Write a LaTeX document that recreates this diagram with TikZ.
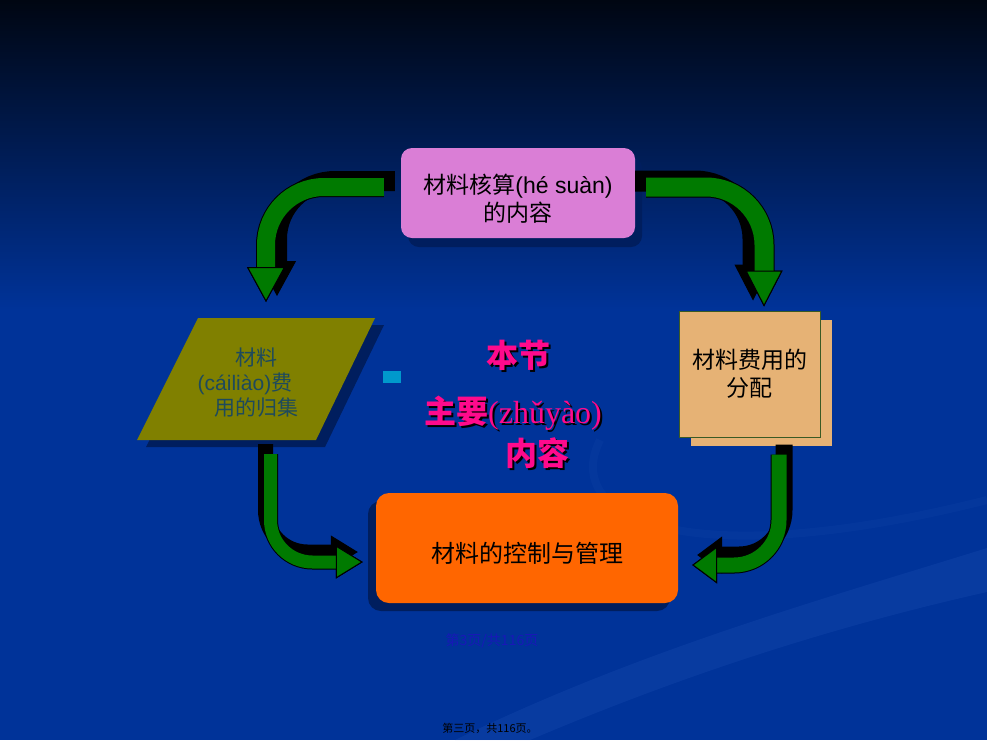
\documentclass[tikz,border=0pt]{standalone}
\usepackage{fontspec}
\setmainfont{Liberation Sans}
\newfontfamily\cjk{Noto Sans CJK SC}
\newfontfamily\serifpy{Liberation Serif}
\usetikzlibrary{shadows,arrows.meta}

\definecolor{bgblue}{HTML}{003399}
\definecolor{bgtop}{HTML}{000612}
\definecolor{swooshblue}{HTML}{2A5CC0}
\definecolor{boxpink}{HTML}{DA7ED6}
\definecolor{boxolive}{HTML}{808000}
\definecolor{oliveink}{HTML}{1E4A5C}
\definecolor{boxtan}{HTML}{E6B275}
\definecolor{tanedge}{HTML}{3A5A24}
\definecolor{boxorange}{HTML}{FF6600}
\definecolor{arrowgreen}{HTML}{007A00}
\definecolor{shadowblue}{HTML}{001E5E}
\definecolor{titlepink}{HTML}{FF0A8C}
\definecolor{bulletcyan}{HTML}{0099CC}
\definecolor{pageblue}{HTML}{1818B8}

\begin{document}
\begin{tikzpicture}[x=1pt, y=-1pt,
    slidebox/.style={inner sep=0pt, align=center, font=\cjk\fontsize{23}{28}\selectfont},
    hesuanbox/.style={slidebox, rounded corners=11pt, fill=boxpink, minimum width=234pt, minimum height=90pt,
      general shadow={fill=shadowblue, shadow xshift=7pt, shadow yshift=-9pt}},
    fenpeibox/.style={slidebox, draw=tanedge, line width=1pt, fill=boxtan, minimum width=141pt, minimum height=126pt,
      general shadow={fill=boxtan, shadow xshift=12pt, shadow yshift=-9pt}},
    kongzhibox/.style={slidebox, rounded corners=13pt, fill=boxorange, minimum width=302pt, minimum height=110pt,
      general shadow={fill=shadowblue, shadow xshift=-8pt, shadow yshift=-8pt}},
    headline/.style={inner sep=0pt, text=titlepink, font=\cjk\bfseries\fontsize{32}{36}\selectfont},
    headshadow/.style={headline, text=black},
    greenhead/.style 2 args={-{Triangle[length=#1 0 0, width=#2 0 0, line width=1pt, color=black, fill=arrowgreen]}},
    blackhead/.style 2 args={-{Triangle[length=#1 0 0, width=#2 0 0, line width=1pt, color=black]}},
  ]
  \useasboundingbox (0,0) rectangle (987,740);
  \fill[bgblue] (0,0) rectangle (987,740);
  \shade[top color=bgtop, bottom color=bgblue] (0,0) rectangle (987,310);
  \fill[swooshblue, opacity=0.2] (987,548) .. controls (820,600) and (640,650) .. (455,740)
    -- (530,740) .. controls (690,672) and (840,625) .. (987,592) -- cycle;
  \draw[swooshblue, opacity=0.1, line width=8pt] (600,440) .. controls (560,520) and (690,575) .. (987,500);

  \node[hesuanbox] (hesuan) at (518,193) {};
  \node[slidebox] (hesuantext) at (518,199) {材料核算{\rmfamily(hé suàn)}\\的内容};

  \coordinate (guijinw) at (198,318);
  \coordinate (guijine) at (375,318);
  \coordinate (guijise) at (316,440);
  \coordinate (guijisw) at (137,440);
  \fill[shadowblue, transform canvas={shift={(9,7)}}] (guijisw) -- (guijinw) -- (guijine) -- (guijise) -- cycle;
  \fill[boxolive] (guijisw) -- (guijinw) -- (guijine) -- (guijise) -- cycle;
  \node[slidebox, text=oliveink, font=\cjk\fontsize{21}{25}\selectfont] (guiji) at (256,383)
    {材料\\{\rmfamily(cáiliào)}费\rule{22pt}{0pt}\\用的归集};

  \node[fenpeibox] (fenpei) at (749.5,374) {材料费用的\\分配};
  \node[kongzhibox] (kongzhi) at (527,548) {};
  \node[slidebox, font=\cjk\fontsize{24}{28}\selectfont] (kongzhitext) at (527,553) {材料的控制与管理};
  \node[fill=bulletcyan, minimum width=18pt, minimum height=12pt, inner sep=0pt] (bullet) at (392,377) {};

  \coordinate (tlstart) at ([shift={(-17,-6)}]hesuan.west);
  \coordinate (tltip) at ([shift={(68,-16)}]guijinw);
  \coordinate (trstart) at ([shift={(11,-6)}]hesuan.east);
  \coordinate (trtip) at ([shift={(14.5,-4)}]fenpei.north);
  \coordinate (blstart) at ([shift={(133.5,14)}]guijisw);
  \coordinate (bltip) at ([shift={(-13,14)}]kongzhi.west);
  \coordinate (brstart) at ([shift={(29.5,17)}]fenpei.south);
  \coordinate (brtip) at ([shift={(14,17)}]kongzhi.east);

  \draw[line width=20pt, blackhead={35pt}{38pt}, rounded corners=58pt, transform canvas={shift={(11,-6)}}] (tlstart) -| (tltip);
  \draw[line width=20pt, blackhead={35pt}{38pt}, rounded corners=58pt] (tlstart) -| (tltip);
  \draw[line width=18pt, draw=arrowgreen, greenhead={35pt}{38pt}, rounded corners=58pt] (tlstart) -| (tltip);

  \draw[line width=21pt, blackhead={36pt}{37pt}, rounded corners=58pt, transform canvas={shift={(-11,-6)}}] (trstart) -| (trtip);
  \draw[line width=21pt, blackhead={36pt}{37pt}, rounded corners=58pt] (trstart) -| (trtip);
  \draw[line width=19pt, draw=arrowgreen, greenhead={36pt}{37pt}, rounded corners=58pt] (trstart) -| (trtip);

  \draw[line width=15pt, blackhead={27pt}{33pt}, rounded corners=42pt, transform canvas={shift={(-5,-10)}}] (blstart) |- (bltip);
  \draw[line width=15pt, blackhead={27pt}{33pt}, rounded corners=42pt] (blstart) |- (bltip);
  \draw[line width=13pt, draw=arrowgreen, greenhead={27pt}{33pt}, rounded corners=42pt] (blstart) |- (bltip);

  \draw[line width=17pt, blackhead={25pt}{37pt}, rounded corners=45pt, transform canvas={shift={(5,-10)}}] (brstart) |- (brtip);
  \draw[line width=17pt, blackhead={25pt}{37pt}, rounded corners=45pt] (brstart) |- (brtip);
  \draw[line width=15pt, draw=arrowgreen, greenhead={25pt}{37pt}, rounded corners=45pt] (brstart) |- (brtip);

  \node[headshadow] (benjieshadow) at (520,357) {本节};
  \node[headline] (benjie) at (518,355) {本节};
  \node[headshadow] (zhuyaoshadow) at (515,415) {主要{\serifpy\mdseries(zhǔyào)}};
  \node[headline] (zhuyao) at (513,413) {主要{\serifpy\mdseries(zhǔyào)}};
  \node[headshadow] (neirongshadow) at (539,455) {内容};
  \node[headline] (neirong) at (537,453) {内容};

  \node[text=pageblue, font=\cjk\fontsize{14}{16}\selectfont] (pagenum) at (492,641) {第3页/共116页};
  \node[text=black, font=\cjk\fontsize{11}{13}\selectfont] (pagefoot) at (490,728) {第三页，共116页。};
\end{tikzpicture}
\end{document}
